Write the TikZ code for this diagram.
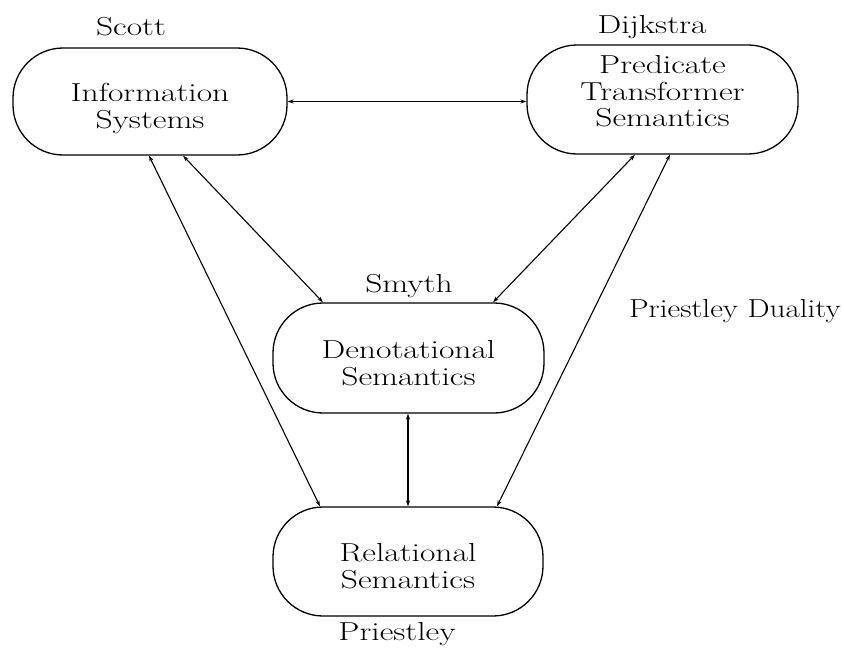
\documentclass[tikz,border=0pt]{standalone}
\usepackage{graphicx}
\usetikzlibrary{arrows.meta,calc}
\newcommand\wl[1]{\scalebox{1.29}[1]{#1}}
\begin{document}
\begin{tikzpicture}[x=1pt,y=-1pt,
  semb/.style={draw,line width=1.3pt,rounded corners=50pt,inner sep=0pt},
  semtext/.style={align=center,inner sep=0pt,font=\fontsize{26}{26.5}\selectfont},
  lbl/.style={inner sep=0pt,anchor=base,font=\fontsize{26}{26.5}\selectfont},
  link/.style={line width=1.1pt,{Stealth[length=6pt,width=4pt]}-{Stealth[length=6pt,width=4pt]}}]
\useasboundingbox[fill=white] (0,0) rectangle (844,653);

\node[semb,minimum width=274pt,minimum height=107pt] (IS) at (150,101.5) {};
\node[semb,minimum width=271pt,minimum height=109pt] (PT) at (662.5,99.5) {};
\node[semb,minimum width=271pt,minimum height=110pt] (DS) at (408.5,358) {};
\node[semb,minimum width=270pt,minimum height=109pt] (RS) at (408,561.5) {};

\node[semtext] (IStxt) at ([yshift=-7pt]IS.center) {\wl{Information}\\\wl{Systems}};
\node[semtext] (PTtxt) at ([yshift=8pt]PT.center) {\wl{Predicate}\\\wl{Transformer}\\\wl{Semantics}};
\node[semtext] (DStxt) at ([yshift=-5pt]DS.center) {\wl{Denotational}\\\wl{Semantics}};
\node[semtext] (RStxt) at ([yshift=-4.5pt]RS.center) {\wl{Relational}\\\wl{Semantics}};

\node[lbl] (scott) at (131,35) {\wl{Scott}};
\node[lbl] (dijk) at (652,33) {\wl{Dijkstra}};
\node[lbl] (smyth) at (409,292) {\wl{Smyth}};
\node[lbl,anchor=base east] (pdual) at (841,317) {\scalebox{1.2}[1]{Priestley Duality}};
\node[lbl] (priest) at (397,640) {\wl{Priestley}};

\draw[link] (IS.east) -- (IS.east -| PT.west);
\draw[link] ([xshift=-1pt]IS.south) -- ([xshift=-88pt]RS.north);
\draw[link] ([xshift=33pt]IS.south) -- ([xshift=-85.5pt]DS.north);
\draw[link] ([xshift=-27.5pt]PT.south) -- ([xshift=84.5pt]DS.north);
\draw[link] ([xshift=7.5pt]PT.south) -- ([xshift=89pt]RS.north);
\draw[link] (DS.south -| RS.north) -- (RS.north);
\end{tikzpicture}
\end{document}
